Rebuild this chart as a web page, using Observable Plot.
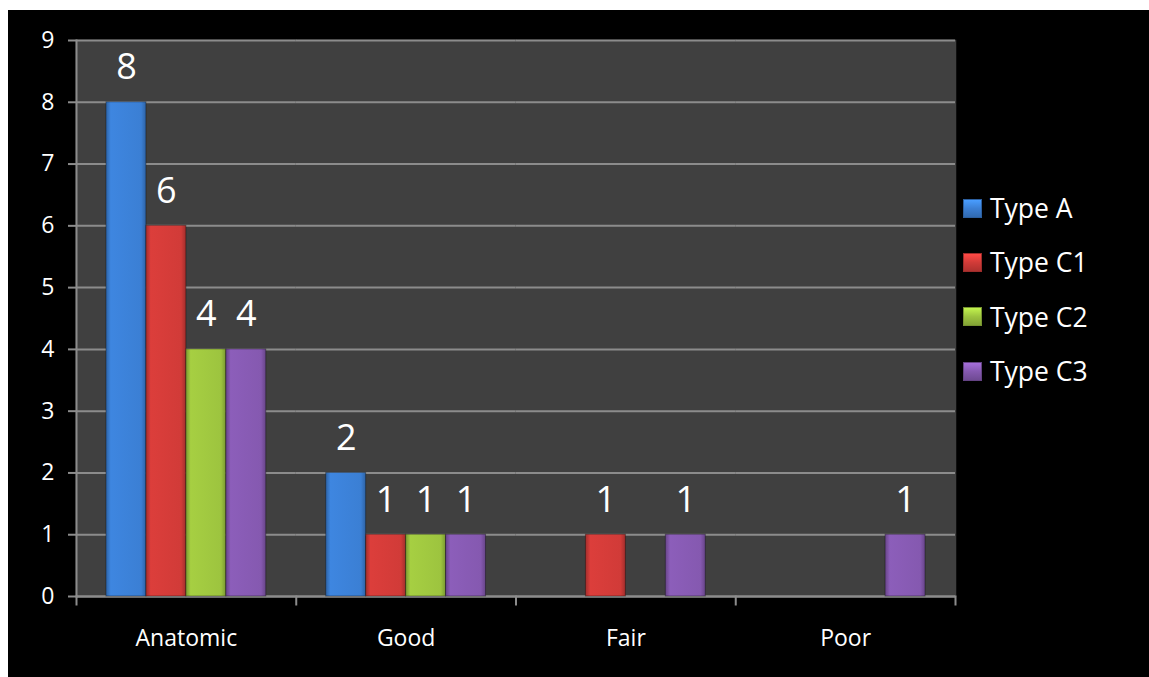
<!DOCTYPE html>
<html><head><meta charset="utf-8">
<script src="https://cdn.jsdelivr.net/npm/d3@7"></script>
<script src="https://cdn.jsdelivr.net/npm/@observablehq/plot@0.6"></script>
<style>
body{margin:0;background:#fff;font-family:'Open Sans',sans-serif;}
#chart{position:absolute;left:8px;top:10px;width:1141px;height:667px;background:#000;overflow:hidden;}
#chart svg{position:absolute;left:0;top:0;}
#legend{position:absolute;left:955px;top:171px;color:#fff;font-size:26.5px;}
.row{height:54.3px;display:flex;align-items:center;}
.sw{width:19px;height:19px;margin-right:8px;box-sizing:border-box;}
</style></head><body><div id="chart"><div id="legend"></div></div>
<script>
const categories = ["Anatomic", "Good", "Fair", "Poor"];
const series = ["Type A", "Type C1", "Type C2", "Type C3"];
const typeA  = [8, 2, null, null];
const typeC1 = [6, 1, 1, null];
const typeC2 = [4, 1, null, null];
const typeC3 = [4, 1, 1, 1];
const seriesColors = ["#3b7fd4", "#d13b38", "#9dc43f", "#8559b0"];
const yTicks = [0, 1, 2, 3, 4, 5, 6, 7, 8, 9];

const values = [typeA, typeC1, typeC2, typeC3];
const data = [];
categories.forEach((c, ci) => series.forEach((s, si) => {
  const v = values[si][ci];
  if (v != null) data.push({category: c, series: s, value: v});
}));

const W = 1141, H = 667, mT = 30, mB = 81, mL = 68, mR = 194;
const grid = "#8c8c8c";

const plot = Plot.plot({
  width: W, height: H,
  marginLeft: mL, marginRight: mR, marginTop: mT, marginBottom: mB,
  style: {background: "transparent", color: "#fff", fontFamily: "'Open Sans', sans-serif", overflow: "visible"},
  fx: {domain: categories, padding: 0, round: false, label: null},
  x: {domain: series, paddingInner: 0, paddingOuter: 0.75, round: false, axis: null},
  y: {domain: [0, 9], axis: null},
  color: {domain: series, range: series.map((s, i) => `url(#grad${i})`)},
  marks: [
    Plot.frame({fill: "#404040", stroke: "#404040", strokeWidth: 1.5}),
    Plot.gridY(yTicks, {stroke: grid, strokeOpacity: 1, strokeWidth: 2}),
    Plot.ruleY([0], {stroke: grid, strokeWidth: 2}),
    Plot.frame({anchor: "left", facetAnchor: "left", stroke: grid, strokeWidth: 2}),
    Plot.frame({anchor: "left", insetTop: H - mT - mB, insetBottom: -8, stroke: grid, strokeWidth: 2}),
    Plot.frame({anchor: "right", facetAnchor: "right", insetTop: H - mT - mB, insetBottom: -8, stroke: grid, strokeWidth: 2}),
    Plot.axisY(yTicks, {tickSize: 8, tickPadding: 14, fontSize: 23, stroke: grid, strokeWidth: 2, fill: "#fff", label: null, tickFormat: d => String(d)}),
    Plot.axisFx({anchor: "bottom", tickSize: 0, tickPadding: 33, fontSize: 23, fill: "#fff", label: null}),
    Plot.barY(data, {fx: "category", x: "series", y: "value", fill: "series", stroke: "rgba(0,0,0,0.35)", strokeWidth: 1}),
    Plot.text(data, {fx: "category", x: "series", y: "value", text: d => String(d.value), fill: "#fff", fontSize: 36, lineAnchor: "bottom", dy: -23})
  ]
});

const ns = "http://www.w3.org/2000/svg";
const defs = document.createElementNS(ns, "defs");
seriesColors.forEach((c, i) => {
  const g = document.createElementNS(ns, "linearGradient");
  g.setAttribute("id", `grad${i}`);
  g.setAttribute("x1", "0"); g.setAttribute("x2", "1"); g.setAttribute("y1", "0"); g.setAttribute("y2", "0");
  [[0, d3.color(c).darker(0.7)], [0.12, d3.color(c).brighter(0.15)], [0.88, d3.color(c)], [1, d3.color(c).darker(0.7)]].forEach(([o, col]) => {
    const st = document.createElementNS(ns, "stop");
    st.setAttribute("offset", o);
    st.setAttribute("stop-color", col.formatHex());
    g.appendChild(st);
  });
  defs.appendChild(g);
});
plot.insertBefore(defs, plot.firstChild);
document.getElementById("chart").appendChild(plot);

const legend = document.getElementById("legend");
series.forEach((s, i) => {
  const row = document.createElement("div");
  row.className = "row";
  const sw = document.createElement("div");
  sw.className = "sw";
  const c = d3.color(seriesColors[i]);
  sw.style.background = `linear-gradient(180deg, ${c.brighter(0.6).formatHex()}, ${c.formatHex()} 50%, ${c.darker(0.5).formatHex()})`;
  sw.style.border = `1px solid ${c.darker(0.8).formatHex()}`;
  const t = document.createElement("span");
  t.textContent = s;
  row.appendChild(sw); row.appendChild(t);
  legend.appendChild(row);
});
</script></body></html>
